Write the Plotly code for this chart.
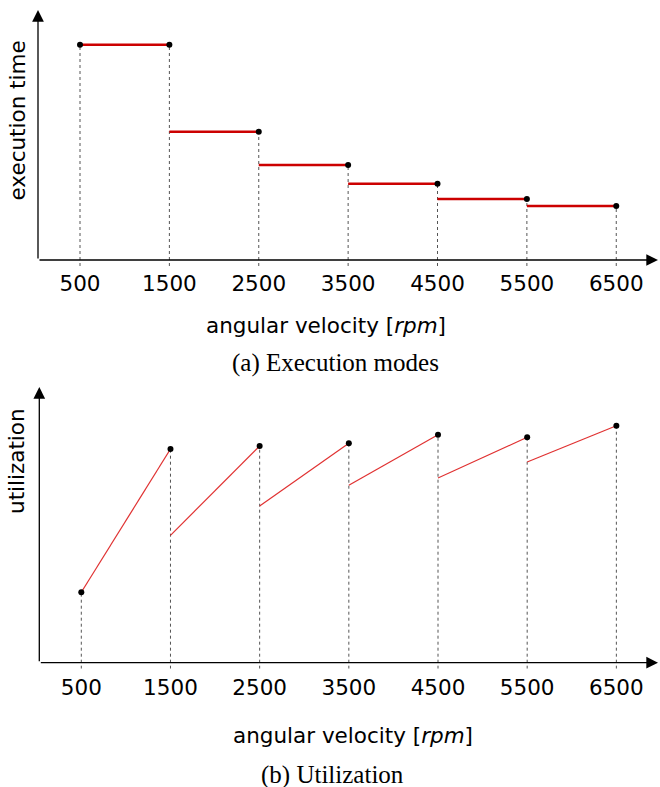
import plotly.graph_objects as go

# ---- data ----
speeds = [500, 1500, 2500, 3500, 4500, 5500, 6500]
speed_labels = ["500", "1500", "2500", "3500", "4500", "5500", "6500"]
# execution time of each mode (interval between consecutive speeds), arbitrary units
exec_time = [215.3, 128.3, 95.0, 76.3, 61.0, 54.0]
# utilization at the start and end of each interval, arbitrary units
util_start = [70.4, 127.4, 156.7, 177.4, 184.7, 200.7]
util_end = [213.7, 216.7, 219.4, 228.0, 225.4, 237.0]

W, H = 660, 787
RED_TOP = "#cc0000"
RED_BOT = "#e03131"
DOT_COL = "#555555"
DROP = -6  # dotted guides extend a little below the axis

fig = go.Figure()

def px2paper(py):
    return 1 - py / H

# ---------- top panel ----------
dot_y_top = [exec_time[0]] + exec_time
for x, y in zip(speeds, dot_y_top):
    fig.add_trace(go.Scatter(x=[x, x], y=[DROP, y], mode="lines",
                             line=dict(color=DOT_COL, width=1, dash="dot"),
                             xaxis="x", yaxis="y", hoverinfo="skip", showlegend=False))
for i, t in enumerate(exec_time):
    fig.add_trace(go.Scatter(x=[speeds[i], speeds[i + 1]], y=[t, t], mode="lines",
                             line=dict(color=RED_TOP, width=2.6),
                             xaxis="x", yaxis="y", hoverinfo="skip", showlegend=False))
fig.add_trace(go.Scatter(x=speeds, y=dot_y_top, mode="markers",
                         marker=dict(color="black", size=6),
                         xaxis="x", yaxis="y", showlegend=False))

# ---------- bottom panel ----------
dot_y_bot = [util_start[0]] + util_end
for x, y in zip(speeds, dot_y_bot):
    fig.add_trace(go.Scatter(x=[x, x], y=[DROP, y], mode="lines",
                             line=dict(color=DOT_COL, width=1, dash="dot"),
                             xaxis="x2", yaxis="y2", hoverinfo="skip", showlegend=False))
for i in range(len(util_start)):
    fig.add_trace(go.Scatter(x=[speeds[i], speeds[i + 1]], y=[util_start[i], util_end[i]],
                             mode="lines", line=dict(color=RED_BOT, width=1.2),
                             xaxis="x2", yaxis="y2", hoverinfo="skip", showlegend=False))
fig.add_trace(go.Scatter(x=speeds, y=dot_y_bot, mode="markers",
                         marker=dict(color="black", size=6),
                         xaxis="x2", yaxis="y2", showlegend=False))

tickfont = dict(family="DejaVu Sans", size=21.5, color="black")
common_x = dict(tickvals=speeds, ticktext=speed_labels, showgrid=False, zeroline=False,
                showline=False, ticks="", tickfont=tickfont, fixedrange=True)
common_y = dict(showgrid=False, zeroline=False, showline=False, showticklabels=False,
                ticks="", fixedrange=True)

fig.update_layout(
    width=W, height=H, margin=dict(l=0, r=0, t=0, b=0),
    paper_bgcolor="white", plot_bgcolor="white", showlegend=False,
    xaxis=dict(domain=[38 / W, 658 / W], range=[30, 6967], anchor="y",
               ticklabelstandoff=2, **common_x),
    yaxis=dict(domain=[px2paper(266.5), px2paper(10)], range=[-6.5, 250], anchor="x", **common_y),
    xaxis2=dict(domain=[39.3 / W, 658 / W], range=[29, 6967], anchor="y2",
                ticklabelstandoff=4, **common_x),
    yaxis2=dict(domain=[px2paper(668.7), px2paper(387)], range=[-6, 275.7], anchor="x2", **common_y),
)

# axes with arrowheads
for xr, yr, ytop in [("x", "y", 250), ("x2", "y2", 275.7)]:
    fig.add_annotation(xref=f"{xr} domain", x=1, axref=f"{xr} domain", ax=0,
                       yref=yr, y=0, ayref=yr, ay=0, text="", showarrow=True,
                       arrowhead=2, arrowsize=1.8, arrowwidth=1.3, arrowcolor="black")
    fig.add_annotation(xref=f"{xr} domain", x=0, axref=f"{xr} domain", ax=0,
                       yref=yr, y=ytop, ayref=yr, ay=0, text="", showarrow=True,
                       arrowhead=2, arrowsize=1.8, arrowwidth=1.3, arrowcolor="black")

lab = dict(family="DejaVu Sans", size=21.5, color="black")
cap = dict(family="Liberation Serif", size=25, color="black")
texts = [
    ("angular velocity [<i>rpm</i>]", 326, 325, 0, lab),
    ("execution time", 17, 120.5, -90, lab),
    ("(a) Execution modes", 335, 363, 0, cap),
    ("angular velocity [<i>rpm</i>]", 353, 735, 0, lab),
    ("utilization", 17, 461, -90, lab),
    ("(b) Utilization", 332, 775, 0, cap),
]
for t, x, y, ang, f in texts:
    fig.add_annotation(xref="paper", yref="paper", x=x / W, y=px2paper(y), text=t,
                       showarrow=False, textangle=ang, font=f,
                       xanchor="center", yanchor="middle")

fig.write_html("out.html", config={"displayModeBar": False},
               post_script="document.body.style.margin='0';document.body.style.overflow='hidden';")
